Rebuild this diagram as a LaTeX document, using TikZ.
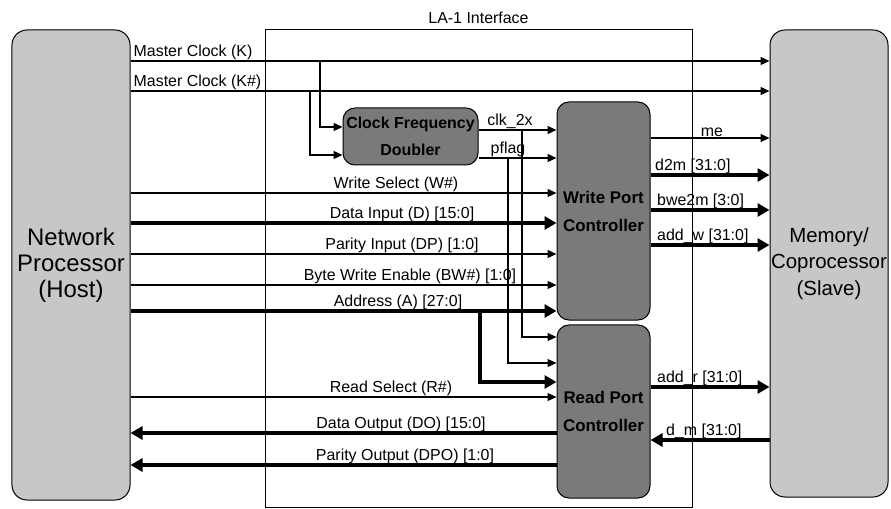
\documentclass[tikz,border=0pt]{standalone}
\usepackage{fontspec}
\setmainfont{Liberation Sans}
\usetikzlibrary{arrows.meta,positioning}

\begin{document}
\begin{tikzpicture}[
  x=1bp, y=-1bp,
  every node/.style={font=\fontsize{16}{18}\selectfont, inner sep=1bp},
  sig/.style={line width=1.3bp, -{Triangle[length=9bp,width=8bp]}},
  bus/.style={line width=4bp, -{Triangle[length=12bp,width=13bp]}},
  endbox/.style={draw, line width=1bp, rounded corners=15bp, fill=black!22,
    minimum width=118bp, align=center},
  ctrlbox/.style={draw, line width=1bp, rounded corners=12bp, fill=black!52,
    align=center, font=\bfseries\fontsize{17}{28}\selectfont}
]
\useasboundingbox (0,0) rectangle (891,509);

% --- Blocks ---

% LA-1 frame
\node[draw, line width=1bp, minimum width=427bp, minimum height=477bp] (la) at (478.5,268.5) {};
\node[above=5bp of la] (title) {LA-1 Interface};

% host and slave
\node[endbox, minimum height=470bp, font=\fontsize{24}{26}\selectfont] (host) at (71,265) {Network\\Processor\\(Host)};
\node[endbox, minimum height=467bp, font=\fontsize{20.5}{26.5}\selectfont] (mem) at (829,263.5) {Memory/\\Coprocessor\\(Slave)};

% controllers
\node[ctrlbox, minimum width=135bp, minimum height=57bp, font=\bfseries\fontsize{16}{27}\selectfont] (cfd) at (410.5,136.5) {Clock Frequency\\Doubler};
\node[ctrlbox, minimum width=93bp, minimum height=218bp] (wpc) at (603.5,211) {Write Port\\Controller};
\node[ctrlbox, minimum width=93bp, minimum height=173bp] (rpc) at (603.5,411.5) {Read Port\\Controller};

% --- Signal levels ---
\coordinate (yK)   at (0,61);
\coordinate (yKn)  at (0,91);
\coordinate (yW)   at (0,193);
\coordinate (yD)   at (0,223);
\coordinate (yDP)  at (0,254);
\coordinate (yBW)  at (0,285);
\coordinate (yA)   at (0,311);
\coordinate (yR)   at (0,397);
\coordinate (yDO)  at (0,433);
\coordinate (yDPO) at (0,465);
\coordinate (yme)  at (0,138);
\coordinate (yd2m) at (0,175);
\coordinate (ybwe) at (0,210);
\coordinate (yaw)  at (0,245);
\coordinate (yar)  at (0,387);
\coordinate (ydm)  at (0,440);

% branch points
\coordinate (kbr)     at (320,61);
\coordinate (knbr)    at (310,91);
\coordinate (clkturn) at (522,337);
\coordinate (pfturn)  at (508,363);
\coordinate (aturn)   at (480,382);
\coordinate (clk) at ([yshift=6.5bp]cfd.east);
\coordinate (pf)  at ([yshift=-21.5bp]cfd.east);

% --- Host to memory clocks ---
\draw[sig] (host.east |- yK) -- (mem.west |- yK);
\draw[sig] (host.east |- yKn) -- (mem.west |- yKn);
\node[anchor=south west, xshift=2bp] (lK) at (host.east |- yK) {Master Clock (K)};
\node[anchor=south west, xshift=2bp] (lKn) at (host.east |- yKn) {Master Clock (K\#)};

% clock doubler
\draw[sig] (kbr) |- ([yshift=9.5bp]cfd.west);
\draw[sig] (knbr) |- ([yshift=-18.5bp]cfd.west);
\draw[sig] (clk) -- (wpc.west |- clk);
\draw[sig] (pf) -- (wpc.west |- pf);
\node[anchor=south] (lclk) at (510,130) {clk\_2x};
\node[anchor=south] (lpf) at (508,158) {pflag};
\draw[sig] (clk -| clkturn) |- (rpc.west |- clkturn);
\draw[sig] (pf -| pfturn) |- (rpc.west |- pfturn);

% --- Write side inputs ---
\draw[sig] (host.east |- yW) -- (wpc.west |- yW);
\draw[bus] (host.east |- yD) -- (wpc.west |- yD);
\draw[sig] (host.east |- yDP) -- (wpc.west |- yDP);
\draw[sig] (host.east |- yBW) -- (wpc.west |- yBW);
\draw[bus] (host.east |- yA) -- (wpc.west |- yA);
\draw[bus] (yA -| aturn) |- (rpc.west |- aturn);
\node[anchor=south] (lW) at (396,193) {Write Select (W\#)};
\node[anchor=south] (lD) at (402,223) {Data Input (D) [15:0]};
\node[anchor=south] (lDP) at (402,254) {Parity Input (DP) [1:0]};
\node[anchor=south] (lBW) at (410,285) {Byte Write Enable (BW\#) [1:0]};
\node[anchor=south] (lA) at (398,311) {Address (A) [27:0]};

% --- Read side ---
\draw[sig] (host.east |- yR) -- (rpc.west |- yR);
\draw[bus] (rpc.west |- yDO) -- (host.east |- yDO);
\draw[bus] (rpc.west |- yDPO) -- (host.east |- yDPO);
\node[anchor=south] (lR) at (391,397) {Read Select (R\#)};
\node[anchor=south] (lDO) at (401,433) {Data Output (DO) [15:0]};
\node[anchor=south] (lDPO) at (405,465) {Parity Output (DPO) [1:0]};

% --- Controllers to memory ---
\draw[sig] (wpc.east |- yme) -- (mem.west |- yme);
\draw[bus] (wpc.east |- yd2m) -- (mem.west |- yd2m);
\draw[bus] (wpc.east |- ybwe) -- (mem.west |- ybwe);
\draw[bus] (wpc.east |- yaw) -- (mem.west |- yaw);
\draw[bus] (rpc.east |- yar) -- (mem.west |- yar);
\draw[bus] (mem.west |- ydm) -- (rpc.east |- ydm);
\node[anchor=south] (lme) at (712,138) {me};
\node[anchor=south west] (ld2m) at (654,175) {d2m [31:0]};
\node[anchor=south west] (lbwe) at (656,210) {bwe2m [3:0]};
\node[anchor=south west] (law) at (656,245) {add\_w [31:0]};
\node[anchor=south west] (lar) at (656,387) {add\_r [31:0]};
\node[anchor=south west] (ldm) at (665,440) {d\_m [31:0]};

\end{tikzpicture}
\end{document}
